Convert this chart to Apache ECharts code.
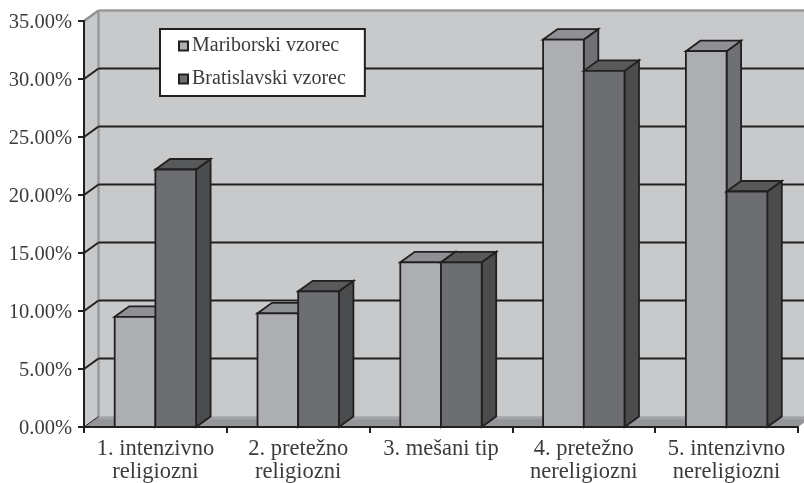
<!DOCTYPE html>
<html><head><meta charset="utf-8">
<style>html,body{margin:0;padding:0;background:#fff}#c{width:804px;height:483px}</style>
<script src="https://cdn.jsdelivr.net/npm/echarts@6/dist/echarts.min.js"></script>
</head><body><div id="c"></div>
<script>
const categories = ['1. intenzivno\nreligiozni','2. pretežno\nreligiozni','3. mešani tip','4. pretežno\nnereligiozni','5. intenzivno\nnereligiozni'];
const mariborski = [9.5, 9.8, 14.2, 33.4, 32.4];
const bratislavski = [22.2, 11.7, 14.2, 30.7, 20.3];
const gridValues = [0, 5, 10, 15, 20, 25, 30, 35];
const seriesNames = ['Mariborski vzorec', 'Bratislavski vzorec'];

const DX = 14.5, DY = -10.5;
const INK = '#231f20';
const TEXT = '#3b3a3c';
const FONT = '"Liberation Serif", serif';
const chart = echarts.init(document.getElementById('c'), null, {renderer:'canvas'});

function poly(pts, fill, stroke, lw) {
  return {type:'polygon', shape:{points:pts}, style:{fill:fill, stroke:stroke||null, lineWidth:lw||0, lineJoin:'miter'}};
}
function seg(x1,y1,x2,y2,stroke,lw) {
  return {type:'line', shape:{x1,y1,x2,y2}, style:{stroke, lineWidth:lw}};
}
function renderWall(params, api) {
  const s = params.coordSys;
  const L = s.x, R = s.x + s.width, T = s.y, B = s.y + s.height;
  return {type:'group', children:[
    poly([[L,T],[L+DX,T+DY],[R+DX,T+DY],[R+DX,B+DY],[L+DX,B+DY],[L,B]], '#c8c9cb'),
    poly([[L,B],[L+DX,B+DY],[R+DX,B+DY],[R,B]], '#939598'),
    seg(L+DX,B+DY+1.5,R+DX,B+DY+1.5,'#a3a4a7',3),
    seg(L+DX,T+DY,L+DX,B+DY,'#98999b',2.5),
    seg(L,T,L+DX,T+DY,'#8f9092',2.5),
    seg(L+DX,T+DY,R+DX,T+DY,'#98999b',2.5)
  ]};
}
function renderGrid(params, api) {
  const s = params.coordSys;
  const p = api.coord([0, api.value(1)]);
  const L = s.x, R = s.x + s.width, y = p[1];
  const v = api.value(1);
  if (v === 35) return {type:'group', children:[]};
  const kids = [seg(L, y, L+DX, y+DY, INK, v === 0 ? 1 : 2)];
  if (v !== 0) kids.push(seg(L+DX, y+DY, R+DX, y+DY, INK, 2));
  return {type:'group', children:kids};
}
function makeBar(slot, front, top, side) {
  return function(params, api) {
    const i = api.value(0);
    const c = api.coord([i, api.value(1)]);
    const base = api.coord([i, 0]);
    const band = api.size([1, 0])[0];
    const w = band * 0.285;
    const x = c[0] - w + slot * w;
    const y = c[1], b = base[1];
    return {type:'group', children:[
      poly([[x+w,y],[x+w+DX,y+DY],[x+w+DX,b+DY],[x+w,b]], side, INK, 1.8),
      poly([[x,y],[x+DX,y+DY],[x+w+DX,y+DY],[x+w,y]], top, INK, 1.8),
      poly([[x,y],[x+w,y],[x+w,b],[x,b]], front, INK, 1.8)
    ]};
  };
}
chart.setOption({
  animation:false,
  backgroundColor:'#fff',
  grid:{left:84, right:6, top:21, bottom:56, containLabel:false, outerBoundsMode:'none'},
  legend:{
    data:seriesNames.map(n=>({name:n, icon:'rect'})),
    orient:'vertical', left:160, top:29,
    padding:[7,19,7,18], itemWidth:9, itemHeight:9, itemGap:13,
    backgroundColor:'#fff', borderColor:INK, borderWidth:2, borderRadius:0,
    selectedMode:false, z:10,
    textStyle:{fontFamily:FONT, fontSize:20, color:TEXT, padding:[0,0,0,-1]}
  },
  xAxis:{type:'category', data:categories, z:5,
    boundaryGap:true,
    axisLine:{lineStyle:{color:INK, width:2}},
    axisTick:{show:true, alignWithLabel:false, length:6, lineStyle:{color:INK, width:2}},
    axisLabel:{fontFamily:FONT, fontSize:22.5, color:TEXT, lineHeight:23, margin:11, interval:0},
    splitLine:{show:false}},
  yAxis:{type:'value', min:0, max:35, interval:5, z:5,
    axisLine:{show:true, lineStyle:{color:INK, width:2}},
    axisTick:{show:true, length:6, lineStyle:{color:INK, width:2}},
    axisLabel:{margin:12, formatter:v=>'{a|'+v.toFixed(2)+'%}',
      rich:{a:{fontFamily:FONT, fontSize:20.5, color:TEXT, padding:[4,0,0,0]}}},
    splitLine:{show:false}},
  series:[
    {type:'custom', name:'wall', silent:true, z:1, data:[[0,0]], encode:{x:0,y:1}, renderItem:renderWall},
    {type:'custom', name:'grid', silent:true, z:1.5, data:gridValues.map(v=>[0,v]), encode:{x:0,y:1}, renderItem:renderGrid},
    {type:'custom', name:seriesNames[0], z:2, data:mariborski.map((v,i)=>[i,v]), encode:{x:0,y:1},
     itemStyle:{color:'#adaeb1', borderColor:INK, borderWidth:1.5},
     renderItem:makeBar(0,'#adaeb1','#8f9093','#6f7073')},
    {type:'custom', name:seriesNames[1], z:2, data:bratislavski.map((v,i)=>[i,v]), encode:{x:0,y:1},
     itemStyle:{color:'#6d6e71', borderColor:INK, borderWidth:1.5},
     renderItem:makeBar(1,'#6d6e71','#58595b','#4b4c4e')}
  ]
});
</script></body></html>
